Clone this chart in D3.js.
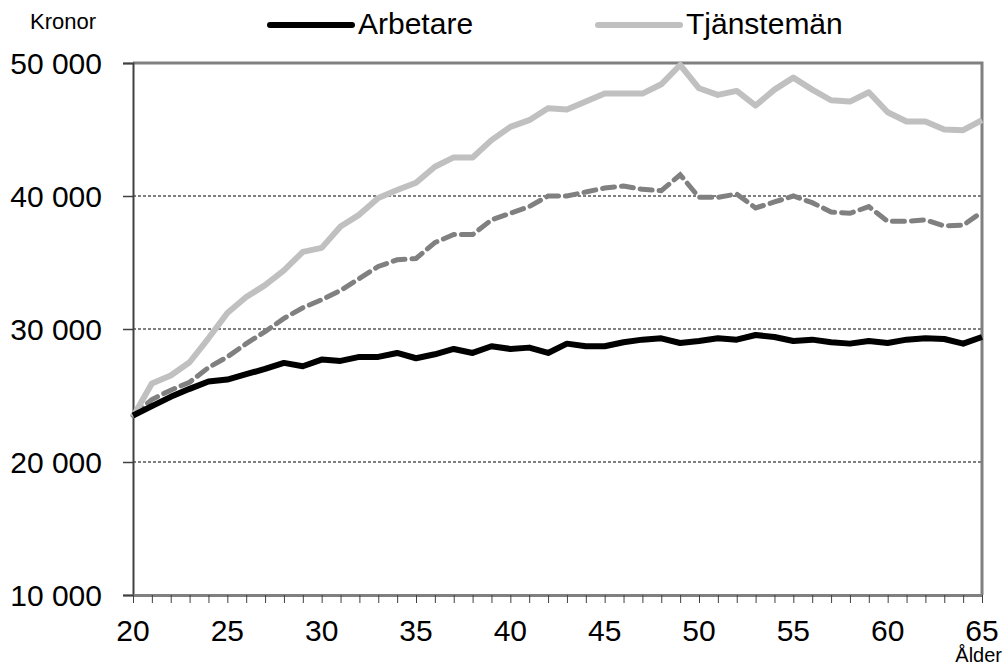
<!DOCTYPE html>
<html>
<head>
<meta charset="utf-8">
<script src="https://cdn.jsdelivr.net/npm/d3@7"></script>
<style>
	body { margin: 0; background: #fff; }
	svg text { font-family: "Liberation Sans", Arial, sans-serif; fill: #000; }
</style>
</head>
<body>
<svg width="1004" height="668"></svg>
<script>

const AGES = d3.range(20, 66);

// manadslon per alder, lasta fran bilden
const ARBETARE = [23.5, 24.2, 24.9, 25.5, 26.05, 26.2, 26.6, 27.0, 27.45, 27.2,
	27.7, 27.6, 27.9, 27.9, 28.2, 27.8, 28.1, 28.5, 28.2, 28.7,
	28.5, 28.6, 28.2, 28.9, 28.7, 28.7, 29.0, 29.2, 29.3, 28.95,
	29.1, 29.3, 29.2, 29.55, 29.4, 29.1, 29.2, 29.0, 28.9, 29.1,
	28.95, 29.2, 29.3, 29.25, 28.9, 29.4].map(v => v * 1000);

const TJANSTEMAN = [23.4, 25.9, 26.5, 27.5, 29.3, 31.2, 32.4, 33.3, 34.4, 35.8,
	36.1, 37.7, 38.6, 39.85, 40.45, 41.0, 42.2, 42.9, 42.9, 44.2,
	45.2, 45.7, 46.6, 46.5, 47.1, 47.7, 47.7, 47.7, 48.4, 49.85,
	48.1, 47.6, 47.9, 46.8, 48.0, 48.9, 48.0, 47.2, 47.1, 47.8,
	46.3, 45.6, 45.6, 45.0, 44.95, 45.7].map(v => v * 1000);

const SAMTLIGA = [23.5, 24.7, 25.4, 26.0, 27.1, 27.9, 28.9, 29.8, 30.8, 31.6,
	32.2, 32.9, 33.8, 34.7, 35.2, 35.3, 36.5, 37.1, 37.1, 38.2,
	38.7, 39.2, 40.0, 40.0, 40.3, 40.6, 40.75, 40.5, 40.4, 41.6,
	39.9, 39.9, 40.15, 39.1, 39.55, 40.0, 39.5, 38.8, 38.7, 39.2,
	38.1, 38.1, 38.2, 37.75, 37.8, 38.8].map(v => v * 1000);

const Y_TICKS = [10000, 20000, 30000, 40000, 50000];
const X_LABELS = [20, 25, 30, 35, 40, 45, 50, 55, 60, 65];

whenLoaded();

function whenLoaded() {
	let svg = d3.select('svg');
	let left = 133, right = 982, top = 63, bottom = 595;

	let x = d3.scaleLinear().domain([20, 65]).range([left, right]);
	let y = d3.scaleLinear().domain([10000, 50000]).range([bottom, top]);

	// stodlinjer
	svg.append('g')
		.selectAll('line')
		.data([20000, 30000, 40000])
		.enter()
		.append('line')
		.attr('x1', left).attr('x2', right)
		.attr('y1', d => y(d)).attr('y2', d => y(d))
		.attr('stroke', '#000')
		.attr('stroke-width', 1)
		.attr('stroke-dasharray', '3,2');

	// ram upptill och till hoger
	svg.append('path')
		.attr('d', `M${left},${top}H${right}V${bottom}`)
		.attr('fill', 'none')
		.attr('stroke', '#808080')
		.attr('stroke-width', 3);

	let fmt = d => d3.format(',')(d).replace(',', ' ');

	let yAxis = d3.axisLeft(y).tickValues(Y_TICKS).tickFormat(fmt).tickSize(10).tickPadding(21);
	let gy = svg.append('g').attr('transform', `translate(${left},0)`).call(yAxis);
	gy.select('.domain').attr('stroke', '#404040').attr('stroke-width', 2);
	gy.selectAll('.tick line').attr('stroke', '#404040').attr('stroke-width', 1.5);
	gy.selectAll('text').attr('font-size', 30).attr('dy', '0.36em');

	let xAxis = d3.axisBottom(x).tickValues(AGES).tickFormat('').tickSize(8).tickSizeOuter(0);
	let gx = svg.append('g').attr('transform', `translate(0,${bottom})`).call(xAxis);
	gx.select('.domain').attr('stroke', '#808080').attr('stroke-width', 3);
	gx.selectAll('.tick line').attr('stroke', '#404040').attr('stroke-width', 1);

	svg.append('g')
		.selectAll('text')
		.data(X_LABELS)
		.enter()
		.append('text')
		.attr('x', d => x(d))
		.attr('y', 641)
		.attr('text-anchor', 'middle')
		.attr('font-size', 30)
		.text(d => d);

	let line = (vals) => d3.line().x((d, i) => x(AGES[i])).y(d => y(d))(vals);

	svg.append('path').attr('d', line(SAMTLIGA))
		.attr('fill', 'none').attr('stroke', '#808080').attr('stroke-width', 5)
		.attr('stroke-dasharray', '12,7').attr('stroke-linecap', 'round');
	svg.append('path').attr('d', line(TJANSTEMAN))
		.attr('fill', 'none').attr('stroke', '#c0c0c0').attr('stroke-width', 6)
		.attr('stroke-linejoin', 'round');
	svg.append('path').attr('d', line(ARBETARE))
		.attr('fill', 'none').attr('stroke', '#000').attr('stroke-width', 6)
		.attr('stroke-linejoin', 'round');

	svg.append('text').attr('x', 30).attr('y', 29).attr('font-size', 22).text('Kronor');
	svg.append('text').attr('x', 1002).attr('y', 662).attr('text-anchor', 'end').attr('font-size', 20).text('Ålder');

	// legend
	let legend = [
		{ name: 'Arbetare', color: '#000', x: 270 },
		{ name: 'Tjänstemän', color: '#c0c0c0', x: 598 }
	];
	let lg = svg.append('g').selectAll('g').data(legend).enter().append('g');
	lg.append('line')
		.attr('x1', d => d.x).attr('x2', d => d.x + 82)
		.attr('y1', 25).attr('y2', 25)
		.attr('stroke', d => d.color).attr('stroke-width', 6).attr('stroke-linecap', 'round');
	lg.append('text')
		.attr('x', d => d.x + 88).attr('y', 34)
		.attr('font-size', 30)
		.text(d => d.name);
}
</script>
</body>
</html>
